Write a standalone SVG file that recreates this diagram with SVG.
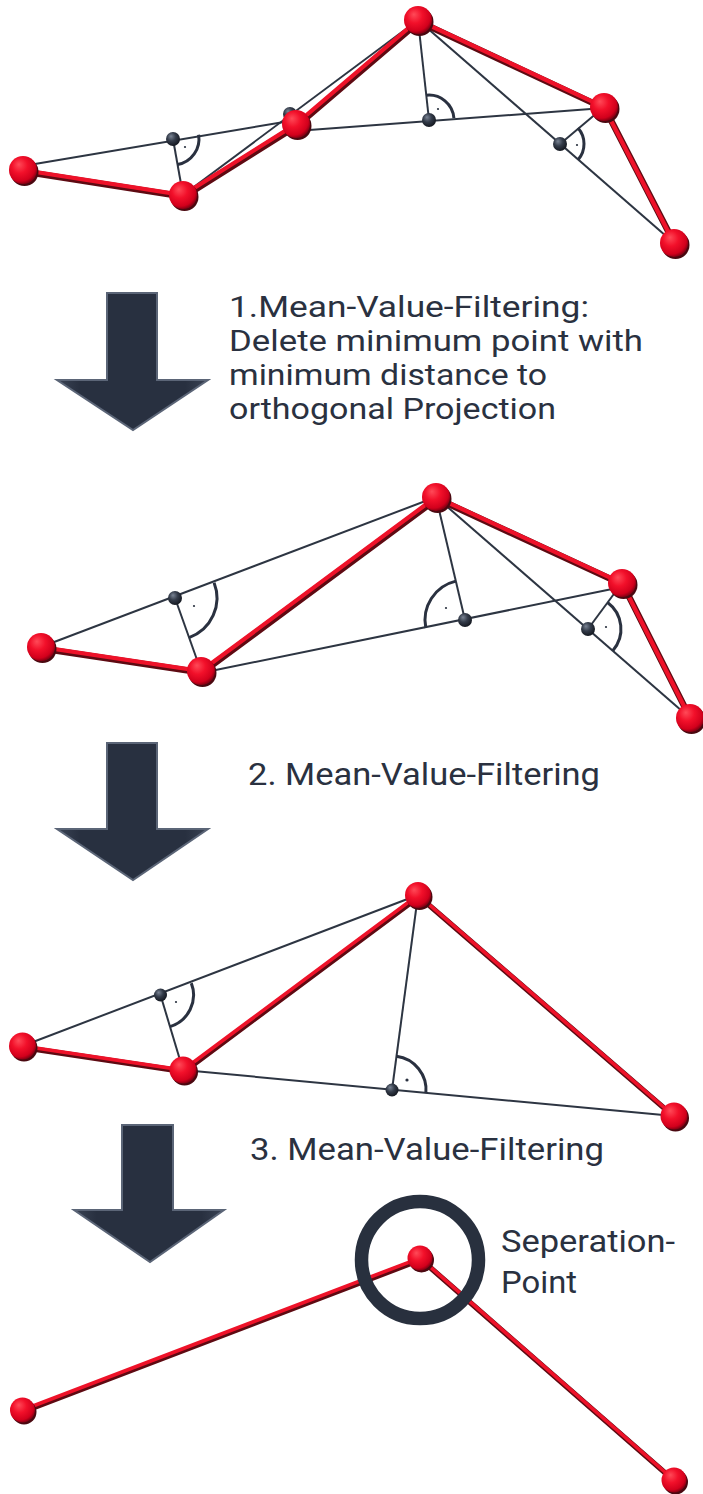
<svg xmlns="http://www.w3.org/2000/svg" xmlns:xlink="http://www.w3.org/1999/xlink" width="703" height="1494" viewBox="0 0 703 1494">
<defs>
<radialGradient id="gRed" cx="0.42" cy="0.38" r="0.62" fx="0.35" fy="0.3">
<stop offset="0" stop-color="#ff4a58"/>
<stop offset="0.45" stop-color="#f2102a"/>
<stop offset="0.85" stop-color="#d2001c"/>
<stop offset="1" stop-color="#8a0014"/>
</radialGradient>
<radialGradient id="gDark" cx="0.42" cy="0.38" r="0.62" fx="0.35" fy="0.3">
<stop offset="0" stop-color="#7a8494"/>
<stop offset="0.5" stop-color="#343c4a"/>
<stop offset="1" stop-color="#141820"/>
</radialGradient>
<linearGradient id="gArrow" x1="0" y1="0" x2="1" y2="0">
<stop offset="0" stop-color="#3a4354"/>
<stop offset="0.15" stop-color="#283040"/>
<stop offset="0.85" stop-color="#283040"/>
<stop offset="1" stop-color="#3a4354"/>
</linearGradient>
</defs>
<style>
.rsh{stroke:#5e0a12;stroke-linecap:round;fill:none}
.rl{stroke:#ee1229;stroke-linecap:round;fill:none}
.w1 .rsh{stroke-width:6.5}
.w1 .rl{stroke-width:4.2}
.w2 .rsh{stroke-width:5.5}
.w2 .rl{stroke-width:3.6}
.bl{stroke:#2d3542;stroke-width:2;fill:none}
.ang{stroke:#2a3140;stroke-width:3;fill:none}
.dot{fill:#2a3140}
.rs{fill:#4a0810}
.rb{fill:url(#gRed)}
.db{fill:url(#gDark)}
.arrow{fill:url(#gArrow);stroke:#5b6577;stroke-width:2;stroke-linejoin:miter}
.t{font-family:Roboto,"Open Sans","Liberation Sans",sans-serif;font-size:32px;fill:#2a3140}
.tb{font-size:29px}
</style>

<!-- connectors -->
<g id="connectors">
<g id="s1-lines">
<line class="bl" x1="23" y1="166" x2="290" y2="121"/>
<line class="bl" x1="183" y1="195" x2="418" y2="20"/>
<line class="bl" x1="296" y1="131" x2="604" y2="108"/>
<line class="bl" x1="418" y1="20" x2="674" y2="243"/>
<line class="bl" x1="183" y1="195" x2="173" y2="139"/>
<line class="bl" x1="418" y1="20" x2="429" y2="120"/>
<line class="bl" x1="604" y1="107" x2="560" y2="144"/>
<g class="w1" transform="translate(1,1.6)">
<polyline class="rsh" points="23,170 183,195 296,124 418,20 604,107 674,243"/>
</g>
<g class="w1">
<polyline class="rl" points="23,170 183,195 296,124 418,20 604,107 674,243"/>
</g>
</g>
<g id="s2-lines">
<line class="bl" x1="41" y1="647" x2="436" y2="497"/>
<line class="bl" x1="201" y1="673" x2="622" y2="587"/>
<line class="bl" x1="436" y1="497" x2="690" y2="718"/>
<line class="bl" x1="201" y1="671" x2="175" y2="598"/>
<line class="bl" x1="436" y1="497" x2="465" y2="620"/>
<line class="bl" x1="622" y1="583" x2="588" y2="629"/>
<g class="w1" transform="translate(1,1.6)">
<polyline class="rsh" points="41,647 201,671 436,497 622,583 690,718"/>
</g>
<g class="w1">
<polyline class="rl" points="41,647 201,671 436,497 622,583 690,718"/>
</g>
</g>
<g id="s3-lines">
<line class="bl" x1="22.5" y1="1046" x2="418" y2="895"/>
<line class="bl" x1="183" y1="1070" x2="674" y2="1116"/>
<line class="bl" x1="183" y1="1070" x2="160.5" y2="995"/>
<line class="bl" x1="418" y1="895" x2="392" y2="1090"/>
<g class="w2" transform="translate(1,1.5)">
<polyline class="rsh" points="22.5,1046 183,1070 418,895 674,1116"/>
</g>
<g class="w2">
<polyline class="rl" points="22.5,1046 183,1070 418,895 674,1116"/>
</g>
</g>
<g id="s4-lines">
<g class="w2" transform="translate(1,1.5)">
<polyline class="rsh" points="22.5,1410 420,1258 674,1480"/>
</g>
<g class="w2">
<polyline class="rl" points="22.5,1410 420,1258 674,1480"/>
</g>
</g>
</g>

<!-- right angle marks -->
<g id="angle-marks">
<path class="ang" d="M198.6,134.7 A26,26 0 0 1 177.6,164.6"/>
<circle class="dot" cx="185" cy="147" r="1.1"/>
<path class="ang" d="M426.3,95.2 A25,25 0 0 1 453.9,118.1"/>
<circle class="dot" cx="438" cy="109" r="1.1"/>
<path class="ang" d="M578,128.1 A24,24 0 0 1 578.3,159.5"/>
<circle class="dot" cx="577" cy="145" r="1.1"/>

<path class="ang" d="M214.1,582.8 A42,42 0 0 1 189.1,637.6"/>
<circle class="dot" cx="194" cy="606" r="1.1"/>
<path class="ang" d="M455.8,581.1 A40,40 0 0 0 425.8,627.9"/>
<circle class="dot" cx="446" cy="608" r="1.1"/>
<path class="ang" d="M607.6,602.5 A33,33 0 0 1 612.8,650.7"/>
<circle class="dot" cx="606" cy="627" r="1.1"/>

<path class="ang" d="M191.3,983.1 A33,33 0 0 1 170,1026.6"/>
<circle class="dot" cx="176" cy="1002" r="1.1"/>
<path class="ang" d="M396.5,1056.3 A34,34 0 0 1 425.9,1093.1"/>
<circle class="dot" cx="407" cy="1080" r="1.6"/>
</g>

<!-- section 1 nodes -->
<g id="s1-Q"><circle class="db" cx="290" cy="114" r="7"/></g>
<g id="s1-P1"><circle class="db" cx="173" cy="139" r="7"/></g>
<g id="s1-P2"><circle class="db" cx="429" cy="120" r="7"/></g>
<g id="s1-P3"><circle class="db" cx="560" cy="144" r="7"/></g>
<g id="s1-A"><circle class="rs" cx="24.5" cy="172" r="14"/><circle class="rb" cx="23" cy="170" r="14"/></g>
<g id="s1-B"><circle class="rs" cx="184.5" cy="197" r="14"/><circle class="rb" cx="183" cy="195" r="14"/></g>
<g id="s1-C"><circle class="rs" cx="297.5" cy="126" r="14"/><circle class="rb" cx="296" cy="124" r="14"/></g>
<g id="s1-D"><circle class="rs" cx="419.5" cy="22" r="14"/><circle class="rb" cx="418" cy="20" r="14"/></g>
<g id="s1-E"><circle class="rs" cx="605.5" cy="109" r="14"/><circle class="rb" cx="604" cy="107" r="14"/></g>
<g id="s1-F"><circle class="rs" cx="675.5" cy="245" r="14"/><circle class="rb" cx="674" cy="243" r="14"/></g>

<!-- arrow 1 + text -->
<g id="arrow1"><path class="arrow" d="M107,293 H157 V380 H208 L133,430 L57,380 H107 Z"/></g>
<g id="label1">
<text class="t tb" x="229" y="317" textLength="360" lengthAdjust="spacingAndGlyphs">1.Mean-Value-Filtering:</text>
<text class="t tb" x="229" y="351" textLength="414" lengthAdjust="spacingAndGlyphs">Delete minimum point with</text>
<text class="t tb" x="229" y="385" textLength="318" lengthAdjust="spacingAndGlyphs">minimum distance to</text>
<text class="t tb" x="229" y="419" textLength="327" lengthAdjust="spacingAndGlyphs">orthogonal Projection</text>
</g>

<!-- section 2 nodes -->
<g id="s2-P4"><circle class="db" cx="175" cy="598" r="7"/></g>
<g id="s2-P5"><circle class="db" cx="465" cy="620" r="7"/></g>
<g id="s2-P6"><circle class="db" cx="588" cy="629" r="7"/></g>
<g id="s2-A"><circle class="rs" cx="42.5" cy="649" r="14"/><circle class="rb" cx="41" cy="647" r="14"/></g>
<g id="s2-B"><circle class="rs" cx="202.5" cy="673" r="14"/><circle class="rb" cx="201" cy="671" r="14"/></g>
<g id="s2-C"><circle class="rs" cx="437.5" cy="499" r="14"/><circle class="rb" cx="436" cy="497" r="14"/></g>
<g id="s2-D"><circle class="rs" cx="623.5" cy="585" r="14"/><circle class="rb" cx="622" cy="583" r="14"/></g>
<g id="s2-E"><circle class="rs" cx="691.5" cy="720" r="14"/><circle class="rb" cx="690" cy="718" r="14"/></g>

<!-- arrow 2 + text -->
<g id="arrow2"><path class="arrow" d="M107,743 H157 V829 H208 L133,880 L57,829 H107 Z"/></g>
<g id="label2"><text class="t" x="248" y="785" textLength="352" lengthAdjust="spacingAndGlyphs">2. Mean-Value-Filtering</text></g>

<!-- section 3 nodes -->
<g id="s3-P7"><circle class="db" cx="160.5" cy="995" r="6.5"/></g>
<g id="s3-P8"><circle class="db" cx="392" cy="1090" r="6.5"/></g>
<g id="s3-A"><circle class="rs" cx="24" cy="1048" r="13.5"/><circle class="rb" cx="22.5" cy="1046" r="13.5"/></g>
<g id="s3-B"><circle class="rs" cx="184.5" cy="1072" r="13.5"/><circle class="rb" cx="183" cy="1070" r="13.5"/></g>
<g id="s3-D"><circle class="rs" cx="419.5" cy="897" r="13"/><circle class="rb" cx="418" cy="895" r="13"/></g>
<g id="s3-F"><circle class="rs" cx="675.5" cy="1118" r="13.5"/><circle class="rb" cx="674" cy="1116" r="13.5"/></g>

<!-- arrow 3 + text -->
<g id="arrow3"><path class="arrow" d="M122,1125 H173 V1210 H224 L150,1262 L74,1210 H122 Z"/></g>
<g id="label3"><text class="t" x="250" y="1160" textLength="354" lengthAdjust="spacingAndGlyphs">3. Mean-Value-Filtering</text></g>

<!-- section 4 -->
<g id="sep-ring"><circle cx="420" cy="1260" r="58.5" fill="none" stroke="#28303e" stroke-width="13.5"/></g>
<g id="s4-G"><circle class="rs" cx="24" cy="1412" r="12.5"/><circle class="rb" cx="22.5" cy="1410" r="12.5"/></g>
<g id="s4-H"><circle class="rs" cx="421.5" cy="1260" r="12.5"/><circle class="rb" cx="420" cy="1258" r="12.5"/></g>
<g id="s4-I"><circle class="rs" cx="675.5" cy="1482" r="12.5"/><circle class="rb" cx="674" cy="1480" r="12.5"/></g>
<g id="label4">
<text class="t" x="501" y="1252" textLength="174" lengthAdjust="spacingAndGlyphs">Seperation-</text>
<text class="t" x="501" y="1293" textLength="76" lengthAdjust="spacingAndGlyphs">Point</text>
</g>
</svg>
